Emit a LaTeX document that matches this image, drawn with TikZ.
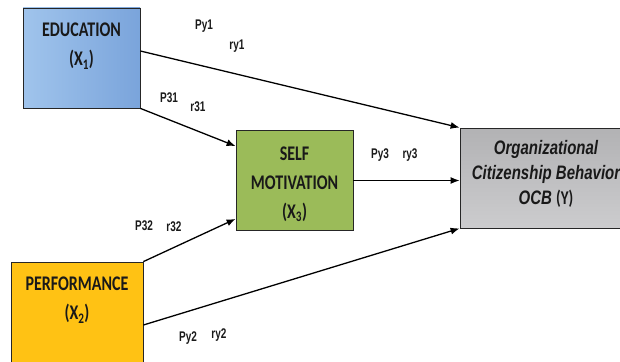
\documentclass[tikz,border=0pt]{standalone}
\usepackage{graphicx}
\usepackage{fontspec}
\setmainfont{Carlito}
\newfontfamily\arialfont{Liberation Sans}
\usetikzlibrary{positioning,arrows,arrows.meta,calc}
\definecolor{eduleft}{RGB}{160,196,236}
\definecolor{eduright}{RGB}{122,164,219}
\definecolor{selfgreen}{RGB}{155,187,89}
\definecolor{perforange}{RGB}{255,194,20}
\definecolor{ocbtop}{RGB}{178,178,180}
\definecolor{ocbbot}{RGB}{204,204,206}
\newcommand{\tl}[1]{\scalebox{1}[1.3]{#1}}
\newcommand{\tc}[1]{\scalebox{1}[1.4]{#1}}

\begin{document}
\begin{tikzpicture}[x=1pt,y=-1pt,
  box/.style={draw=black!85,line width=0.8pt,minimum width=117pt,minimum height=100pt,inner sep=0pt},
  boxtext/.style={align=center,font=\bfseries\fontsize{16}{29}\selectfont,text=black!90},
  ocbtext/.style={align=center,font=\arialfont\bfseries\itshape\fontsize{15}{25}\selectfont,text=black!90},
  link/.style={-{Latex[length=9pt,width=7pt]},line width=1.3pt},
  coef/.style={font=\arialfont\bfseries\fontsize{10}{12}\selectfont,inner sep=0pt,text=black!90}]
\useasboundingbox (0,0) rectangle (620,361);
\clip (0,0) rectangle (620,361);
% boxes
\node [box,left color=eduleft,right color=eduright] (edu) at (81.5,58) {};
\node [boxtext] (edut) at ([yshift=12pt]edu.center) {\tl{EDUCATION}\\\tl{(X\textsubscript{1})}};
\node [box,fill=perforange,minimum width=132pt] (perf) at (77,312) {};
\node [boxtext] (perft) at ([yshift=12pt]perf.center) {\tl{PERFORMANCE}\\\tl{(X\textsubscript{2})}};
\node [box,fill=selfgreen] (selfm) at (294.5,180.5) {};
\node [boxtext] (selft) at ([yshift=-4pt]selfm.center) {\tl{SELF}\\\tl{MOTIVATION}\\\tl{(X\textsubscript{3})}};
\node [box,top color=ocbtop,bottom color=ocbbot,minimum width=172pt] (ocb) at (546,178) {};
\node [ocbtext] (ocbt) at ([yshift=4pt]ocb.center) {\tl{Organizational}\\\tl{Citizenship Behavior}\\\tl{OCB {\upshape\normalfont\bfseries\fontsize{15}{25}\selectfont(Y)}}};
% paths
\draw [link] ([yshift=7pt]edu.east) -- (ocb.north west);
\draw [link] (edu.south east) -- ([yshift=-16pt]selfm.north west);
\draw [link] (selfm.east) -- (selfm.east -| ocb.west);
\draw [link] (perf.north east) -- ([yshift=12pt]selfm.south west);
\draw [link] ([yshift=-13pt]perf.east) -- (ocb.south west);
% coefficients
\node [coef] (py1) at (204,26) {\tc{Py1}};
\node [coef] (ry1) at (237,46) {\tc{ry1}};
\node [coef] (p31) at (169,98) {\tc{P31}};
\node [coef] (r31) at (198,107) {\tc{r31}};
\node [coef] (py3) at (380,155) {\tc{Py3}};
\node [coef] (ry3) at (410,155) {\tc{ry3}};
\node [coef] (p32) at (144,226) {\tc{P32}};
\node [coef] (r32) at (174,227) {\tc{r32}};
\node [coef] (py2) at (188,338) {\tc{Py2}};
\node [coef] (ry2) at (219,335) {\tc{ry2}};
\end{tikzpicture}
\end{document}
